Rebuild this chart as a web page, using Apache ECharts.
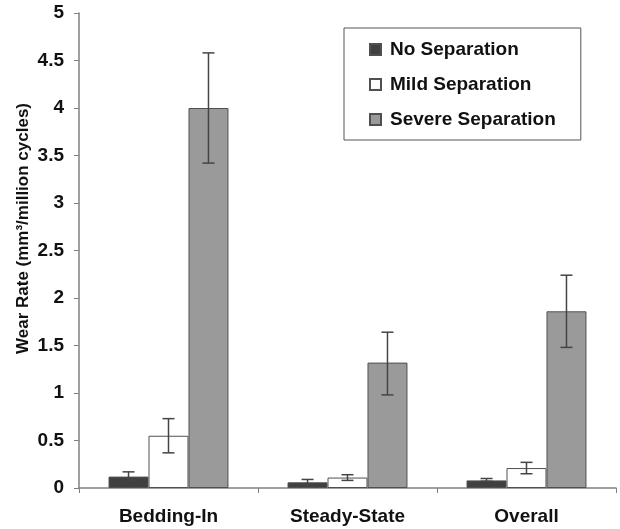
<!DOCTYPE html>
<html>
<head>
<meta charset="utf-8">
<script src="https://cdn.jsdelivr.net/npm/echarts@6/dist/echarts.min.js"></script>
<style>
  html, body { margin: 0; padding: 0; background: #fff; }
  #main { width: 620px; height: 529px; }
</style>
</head>
<body>
<div id="main"></div>
<script>
// data
var categories = ['Bedding-In', 'Steady-State', 'Overall'];
var seriesNames = ['No Separation', 'Mild Separation', 'Severe Separation'];
var noSep = [0.12, 0.06, 0.08];
var mildSep = [0.55, 0.11, 0.21];
var severeSep = [4.0, 1.32, 1.86];
// error bar low / high
var noSepErr = [[0.07, 0.17], [0.03, 0.09], [0.07, 0.10]];
var mildSepErr = [[0.37, 0.73], [0.08, 0.14], [0.15, 0.27]];
var severeSepErr = [[3.42, 4.58], [0.98, 1.64], [1.48, 2.24]];
var colors = ['#404040', '#ffffff', '#9a9a9a'];

var myChart = echarts.init(document.getElementById('main'));

var values = [noSep, mildSep, severeSep];
var errs = [noSepErr, mildSepErr, severeSepErr];
var gapFrac = 0.33;
var font = 'Liberation Sans';

var series = [];
for (var s = 0; s < 3; s++) {
    series.push({
        name: seriesNames[s],
        type: 'bar',
        data: values[s],
        barGap: 0,
        barCategoryGap: '33%',
        itemStyle: { color: colors[s], borderColor: '#505050', borderWidth: 1 }
    });
}
for (var s = 0; s < 3; s++) {
    (function (idx) {
        series.push({
            type: 'custom',
            name: 'err' + idx,
            z: 10,
            data: errs[idx].map(function (e, i) { return [i, e[0], e[1]]; }),
            encode: { x: 0, y: [1, 2] },
            renderItem: function (params, api) {
                var band = api.size([1, 0])[0];
                var bw = band * (1 - gapFrac) / 3;
                var off = (idx - 1) * bw;
                var lo = api.coord([api.value(0), api.value(1)]);
                var hi = api.coord([api.value(0), api.value(2)]);
                var x = lo[0] + off;
                var cap = 6;
                var st = { stroke: '#444', lineWidth: 1.5 };
                return {
                    type: 'group',
                    children: [
                        { type: 'line', shape: { x1: x, y1: lo[1], x2: x, y2: hi[1] }, style: st },
                        { type: 'line', shape: { x1: x - cap, y1: lo[1], x2: x + cap, y2: lo[1] }, style: st },
                        { type: 'line', shape: { x1: x - cap, y1: hi[1], x2: x + cap, y2: hi[1] }, style: st }
                    ]
                };
            }
        });
    })(s);
}

var option = {
    animation: false,
    backgroundColor: '#fff',
    grid: { left: 79, right: 4, top: 13, bottom: 41 },
    legend: {
        data: seriesNames,
        orient: 'vertical',
        left: 344,
        top: 28,
        padding: [12, 25, 11, 25],
        itemWidth: 11,
        itemHeight: 11,
        itemGap: 16,
        icon: 'rect',
        borderColor: '#555',
        borderWidth: 1,
        textStyle: { fontFamily: font, fontWeight: 'bold', fontSize: 19, color: '#111', padding: [0, 0, 0, 4] }
    },
    xAxis: {
        type: 'category',
        data: categories,
        axisLine: { lineStyle: { color: '#808080', width: 1.5 } },
        axisTick: { show: true, alignWithLabel: false, length: 5, lineStyle: { color: '#808080' } },
        axisLabel: { fontFamily: font, fontWeight: 'bold', fontSize: 19, color: '#111', margin: 19 }
    },
    yAxis: {
        type: 'value',
        min: 0,
        max: 5,
        interval: 0.5,
        name: 'Wear Rate (mm\u00b3/million cycles)',
        nameLocation: 'middle',
        nameGap: 47,
        nameMoveOverlap: false,
        nameTextStyle: { fontFamily: font, fontWeight: 'bold', fontSize: 17, color: '#111', padding: [0, 0, 0, 44] },
        axisLine: { show: true, lineStyle: { color: '#808080', width: 1.5 } },
        axisTick: { show: true, length: 5, lineStyle: { color: '#808080' } },
        splitLine: { show: false },
        axisLabel: { fontFamily: font, fontWeight: 'bold', fontSize: 19, color: '#111', margin: 15 }
    },
    series: series
};

myChart.setOption(option);
</script>
</body>
</html>
